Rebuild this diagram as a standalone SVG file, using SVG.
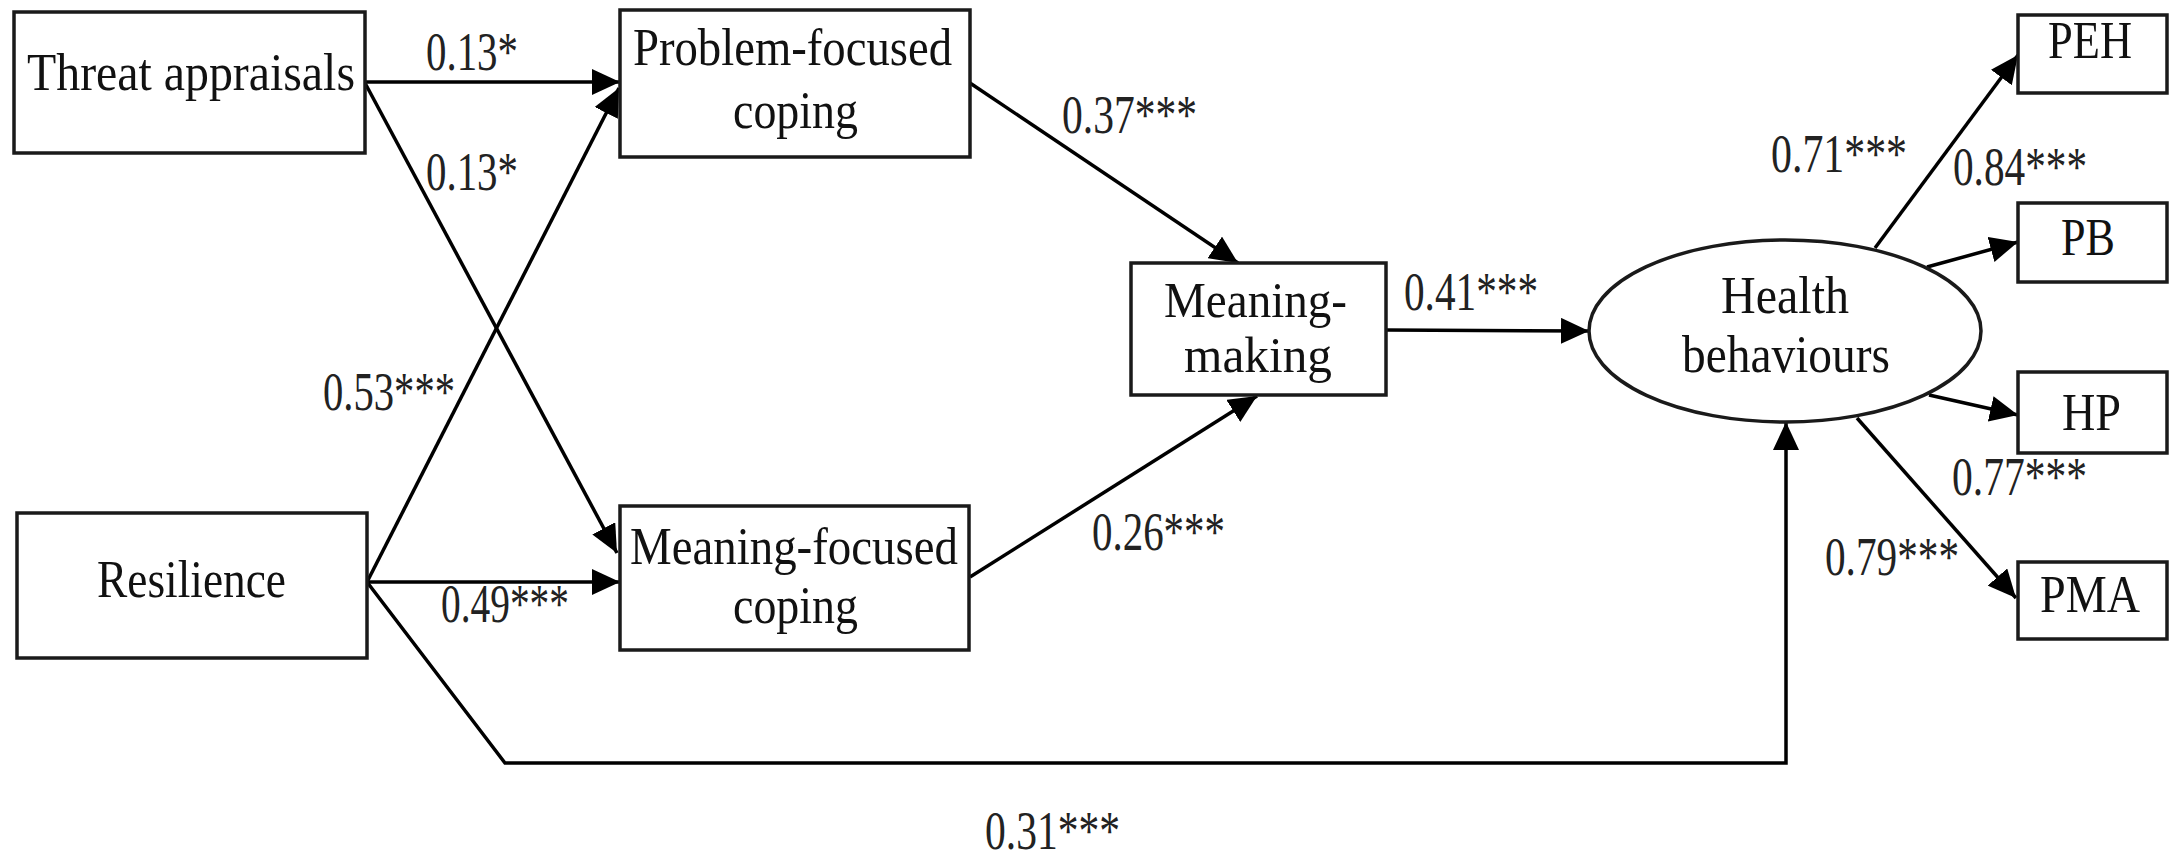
<svg xmlns="http://www.w3.org/2000/svg" width="2179" height="862" viewBox="0 0 2179 862">
  <style>
    .box { fill: #fff; stroke: #1a1a1a; stroke-width: 3.5; }
    .lbl { font-family: "Liberation Serif", "Times New Roman", serif; font-size: 52px; fill: #111; }
    .lbl.sm { font-size: 50px; }
    .coef { font-family: "Liberation Serif", "Times New Roman", serif; font-size: 54px; fill: #222; }
    .edge { fill: none; stroke: #000; stroke-width: 3.5; marker-end: url(#arrow); }
  </style>
  <defs>
    <marker id="arrow" viewBox="0 0 28 26" refX="28" refY="13" markerWidth="28" markerHeight="26" markerUnits="userSpaceOnUse" orient="auto">
      <path d="M0,0 L28,13 L0,26 z" fill="#000"/>
    </marker>
  </defs>
  <rect width="2179" height="862" fill="#fff"/>

  <!-- paths between constructs -->
  <g id="connectors">
    <path class="edge" d="M365,82 L620,82"/>
    <path class="edge" d="M365,83 L617,553"/>
    <path class="edge" d="M367,582 L619,88"/>
    <path class="edge" d="M367,582 L620,582"/>
    <path class="edge" d="M367,582 L505,763 L1786,763 L1786,422"/>
    <path class="edge" d="M970,83 L1238,263"/>
    <path class="edge" d="M970,577 L1257,396"/>
    <path class="edge" d="M1386,330 L1589,331"/>
    <path class="edge" d="M1875,248 L2018,55"/>
    <path class="edge" d="M1927,267 L2018,242"/>
    <path class="edge" d="M1929,395 L2018,415"/>
    <path class="edge" d="M1857,418 L2016,598"/>
  </g>

  <!-- path coefficients -->
  <g id="coefficients">
    <text class="coef" x="426" y="70" textLength="92" lengthAdjust="spacingAndGlyphs">0.13*</text>
    <text class="coef" x="426" y="190" textLength="92" lengthAdjust="spacingAndGlyphs">0.13*</text>
    <text class="coef" x="323" y="410" textLength="132" lengthAdjust="spacingAndGlyphs">0.53***</text>
    <text class="coef" x="441" y="622" textLength="128" lengthAdjust="spacingAndGlyphs">0.49***</text>
    <text class="coef" x="1062" y="133" textLength="135" lengthAdjust="spacingAndGlyphs">0.37***</text>
    <text class="coef" x="1092" y="550" textLength="133" lengthAdjust="spacingAndGlyphs">0.26***</text>
    <text class="coef" x="1404" y="310" textLength="134" lengthAdjust="spacingAndGlyphs">0.41***</text>
    <text class="coef" x="1771" y="172" textLength="136" lengthAdjust="spacingAndGlyphs">0.71***</text>
    <text class="coef" x="1953" y="185" textLength="134" lengthAdjust="spacingAndGlyphs">0.84***</text>
    <text class="coef" x="1952" y="495" textLength="135" lengthAdjust="spacingAndGlyphs">0.77***</text>
    <text class="coef" x="1825" y="575" textLength="134" lengthAdjust="spacingAndGlyphs">0.79***</text>
    <text class="coef" x="985" y="849" textLength="135" lengthAdjust="spacingAndGlyphs">0.31***</text>
  </g>

  <g id="threat-appraisals">
    <rect class="box" x="14" y="12" width="351" height="141"/>
    <text class="lbl" x="27" y="90" textLength="328" lengthAdjust="spacingAndGlyphs">Threat appraisals</text>
  </g>

  <g id="resilience">
    <rect class="box" x="17" y="513" width="350" height="145"/>
    <text class="lbl" x="97" y="597" textLength="189" lengthAdjust="spacingAndGlyphs">Resilience</text>
  </g>

  <g id="problem-focused-coping">
    <rect class="box" x="620" y="10" width="350" height="147"/>
    <text class="lbl" x="633" y="65" textLength="319" lengthAdjust="spacingAndGlyphs">Problem-focused</text>
    <text class="lbl" x="733" y="128" textLength="125" lengthAdjust="spacingAndGlyphs">coping</text>
  </g>

  <g id="meaning-focused-coping">
    <rect class="box" x="620" y="506" width="349" height="144"/>
    <text class="lbl" x="630" y="564" textLength="328" lengthAdjust="spacingAndGlyphs">Meaning-focused</text>
    <text class="lbl" x="733" y="623" textLength="125" lengthAdjust="spacingAndGlyphs">coping</text>
  </g>

  <g id="meaning-making">
    <rect class="box" x="1131" y="263" width="255" height="132"/>
    <text class="lbl sm" x="1164" y="317" textLength="183" lengthAdjust="spacingAndGlyphs">Meaning-</text>
    <text class="lbl sm" x="1184" y="372" textLength="148" lengthAdjust="spacingAndGlyphs">making</text>
  </g>

  <g id="health-behaviours">
    <ellipse class="box" cx="1785" cy="331" rx="196" ry="91"/>
    <text class="lbl" x="1721" y="313" textLength="128" lengthAdjust="spacingAndGlyphs">Health</text>
    <text class="lbl" x="1682" y="372" textLength="208" lengthAdjust="spacingAndGlyphs">behaviours</text>
  </g>

  <g id="peh">
    <rect class="box" x="2018" y="15" width="149" height="78"/>
    <text class="lbl" x="2048" y="58" textLength="84" lengthAdjust="spacingAndGlyphs">PEH</text>
  </g>

  <g id="pb">
    <rect class="box" x="2018" y="203" width="149" height="79"/>
    <text class="lbl" x="2061" y="255" textLength="54" lengthAdjust="spacingAndGlyphs">PB</text>
  </g>

  <g id="hp">
    <rect class="box" x="2018" y="372" width="149" height="81"/>
    <text class="lbl" x="2062" y="430" textLength="59" lengthAdjust="spacingAndGlyphs">HP</text>
  </g>

  <g id="pma">
    <rect class="box" x="2018" y="562" width="149" height="77"/>
    <text class="lbl" x="2040" y="612" textLength="100" lengthAdjust="spacingAndGlyphs">PMA</text>
  </g>
</svg>
